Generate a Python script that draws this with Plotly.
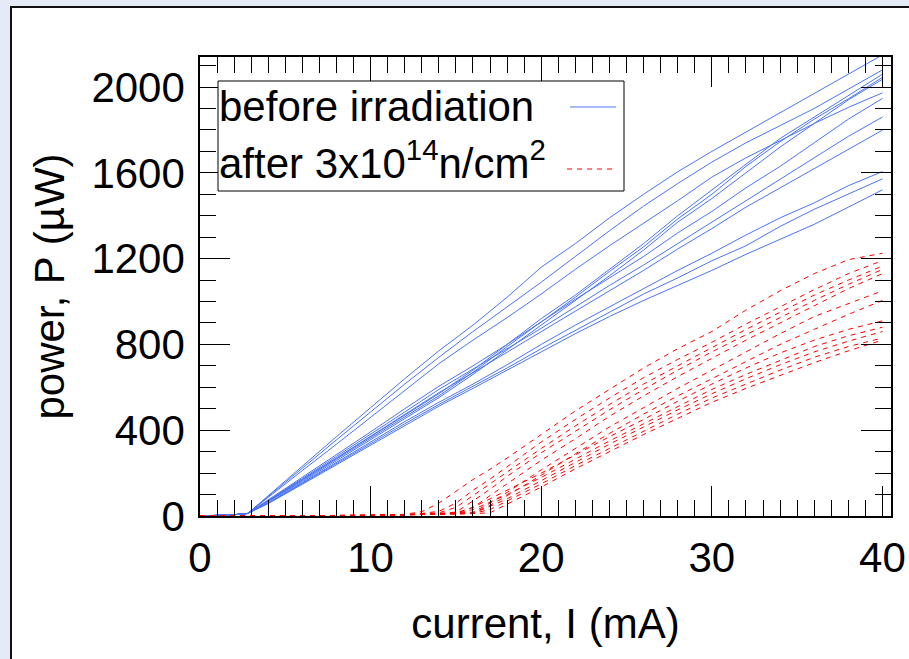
import plotly.graph_objects as go

# ---------------- data ----------------
blue_I = [0, 1, 2, 2.8, 4, 6, 8, 10, 12, 14, 16, 18, 20, 22, 24, 26, 28, 30, 32, 34, 36, 38, 40]

before_P = [
    [0, 2, 6, 12, 95, 235, 370, 505, 640, 770, 890, 1020, 1160, 1270, 1390, 1500, 1605, 1700, 1790, 1880, 1970, 2060, 2150],
    [0, 2, 6, 12, 92, 225, 355, 485, 615, 740, 860, 975, 1090, 1210, 1330, 1445, 1550, 1650, 1740, 1820, 1900, 1990, 2080],
    [0, 2, 6, 12, 88, 212, 335, 460, 585, 710, 820, 925, 1035, 1150, 1260, 1365, 1470, 1580, 1670, 1750, 1830, 1905, 1973],
    [0, 2, 6, 12, 70, 170, 270, 370, 470, 570, 680, 800, 920, 1030, 1150, 1270, 1400, 1520, 1640, 1760, 1860, 1960, 2060],
    [0, 2, 6, 12, 68, 165, 265, 362, 462, 560, 670, 790, 905, 1020, 1140, 1255, 1385, 1500, 1630, 1745, 1850, 1945, 2045],
    [0, 2, 6, 12, 66, 160, 258, 355, 455, 552, 660, 775, 890, 1005, 1120, 1240, 1370, 1480, 1600, 1720, 1830, 1940, 2036],
    [0, 2, 6, 12, 75, 180, 285, 392, 500, 605, 700, 800, 905, 1010, 1110, 1210, 1320, 1420, 1530, 1630, 1740, 1850, 1947],
    [0, 2, 6, 12, 72, 175, 278, 380, 485, 590, 685, 780, 875, 975, 1075, 1170, 1270, 1370, 1470, 1570, 1670, 1770, 1860],
    [0, 2, 6, 12, 70, 170, 270, 372, 472, 575, 668, 765, 860, 955, 1050, 1145, 1245, 1340, 1440, 1530, 1620, 1710, 1799],
    [0, 2, 6, 12, 62, 155, 250, 345, 440, 530, 615, 705, 800, 890, 975, 1060, 1145, 1225, 1310, 1390, 1460, 1540, 1606],
    [0, 2, 6, 12, 60, 152, 245, 338, 430, 520, 605, 690, 780, 865, 950, 1035, 1110, 1190, 1260, 1350, 1430, 1500, 1572],
    [0, 2, 6, 12, 58, 148, 238, 330, 422, 512, 595, 680, 765, 850, 930, 1005, 1075, 1145, 1220, 1290, 1360, 1440, 1521],
]

red_I = [0, 2, 4, 6, 8, 10, 11, 12, 13, 14, 15, 16, 17, 18, 20, 22, 24, 26, 28, 30, 32, 34, 36, 38, 40]

after_P = [
    [0, 0, 0, 1, 2, 3, 4, 8, 20, 60, 115, 170, 218, 270, 380, 490, 590, 690, 780, 860, 960, 1050, 1130, 1195, 1225],
    [0, 0, 0, 1, 2, 3, 4, 6, 12, 22, 60, 120, 172, 230, 345, 450, 550, 645, 730, 810, 895, 975, 1055, 1130, 1191],
    [0, 0, 0, 1, 2, 3, 4, 6, 10, 15, 40, 95, 148, 205, 315, 420, 520, 615, 700, 785, 870, 950, 1030, 1100, 1165],
    [0, 0, 0, 1, 2, 3, 4, 5, 8, 12, 18, 70, 125, 185, 295, 395, 495, 590, 680, 765, 845, 925, 1005, 1080, 1150],
    [0, 0, 0, 1, 2, 3, 4, 5, 8, 12, 15, 40, 95, 150, 260, 360, 465, 560, 650, 735, 820, 900, 980, 1060, 1130],
    [0, 0, 0, 1, 2, 3, 4, 5, 7, 10, 13, 18, 60, 110, 215, 315, 415, 505, 595, 680, 765, 850, 930, 990, 1050],
    [0, 0, 0, 1, 2, 3, 4, 5, 7, 10, 12, 15, 50, 95, 190, 290, 385, 475, 560, 640, 720, 800, 870, 940, 1005],
    [0, 0, 0, 1, 2, 3, 4, 5, 7, 10, 12, 40, 80, 120, 200, 285, 370, 450, 535, 615, 690, 760, 820, 870, 910],
    [0, 0, 0, 1, 2, 3, 4, 5, 6, 9, 11, 30, 65, 100, 180, 265, 350, 430, 510, 590, 660, 725, 790, 840, 880],
    [0, 0, 0, 1, 2, 3, 4, 5, 6, 8, 10, 12, 45, 80, 165, 250, 335, 415, 495, 570, 640, 705, 765, 815, 860],
    [0, 0, 0, 1, 2, 3, 4, 5, 6, 8, 10, 12, 30, 70, 150, 235, 315, 395, 475, 550, 615, 680, 740, 790, 830],
    [0, 0, 0, 1, 2, 3, 4, 5, 6, 7, 9, 11, 15, 55, 135, 220, 300, 380, 455, 530, 595, 655, 715, 770, 820],
]

x_ticks = [0, 10, 20, 30, 40]
y_ticks = [0, 400, 800, 1200, 1600, 2000]
x_mid_ticks = [5, 15, 25, 35]
legend_labels = ["before irradiation", "after 3x10<sup>14</sup>n/cm<sup>2</sup>"]
x_title = "current, I (mA)"
y_title = "power, P (µW)"

BLUE = "#4A74F4"
RED = "#FF0000"
FONT = "Liberation Sans, Arial, sans-serif"
FS = 42

# ---------------- figure ----------------
fig = go.Figure()
for ys in before_P:
    fig.add_trace(go.Scatter(x=blue_I, y=ys, mode="lines",
                             line=dict(color=BLUE, width=1), showlegend=False,
                             hoverinfo="skip"))
for ys in after_P:
    fig.add_trace(go.Scatter(x=red_I, y=ys, mode="lines",
                             line=dict(color=RED, width=1, dash="5px,5px"),
                             showlegend=False, hoverinfo="skip"))

W, H = 909, 659
L, R, T, B = 200, 891, 57, 516


def px(xp):
    return (xp - L) / (R - L)


def py(yp):
    return (B - yp) / (B - T)


axis_common = dict(showline=True, linecolor="black", linewidth=1.5, mirror="allticks",
                   ticks="inside", ticklen=30, tickwidth=1, tickcolor="black",
                   showgrid=False, zeroline=False, automargin=False,
                   tickfont=dict(family=FONT, size=FS, color="black"))

fig.update_layout(
    width=W, height=H,
    margin=dict(l=L, r=W - R, t=T, b=H - B, autoexpand=False),
    paper_bgcolor="#E4EAF8",
    plot_bgcolor="rgba(0,0,0,0)",
    font=dict(family=FONT, color="black"),
    showlegend=False,
    xaxis=dict(range=[0, 40.5], tickvals=x_ticks, ticktext=[str(v) for v in x_ticks],
               minor=dict(dtick=1, tick0=0, ticklen=16, ticks="inside", tickcolor="black", tickwidth=1),
               ticklabelstandoff=4,
               title=dict(text=x_title, font=dict(family=FONT, size=FS), standoff=28),
               **axis_common),
    xaxis2=dict(range=[0, 40.5], overlaying="x", anchor="y", side="bottom",
                tickvals=x_mid_ticks, showticklabels=False, ticks="inside", ticklen=22,
                tickcolor="black", tickwidth=1, mirror="allticks", showline=False,
                showgrid=False, zeroline=False, automargin=False),
    yaxis=dict(range=[0, 2140], tickvals=y_ticks, ticktext=[str(v) for v in y_ticks],
               minor=dict(dtick=100, tick0=0, ticklen=16, ticks="inside", tickcolor="black", tickwidth=1),
               ticklabelstandoff=5,
               title=dict(text=y_title, font=dict(family=FONT, size=FS), standoff=14),
               **axis_common),
)

# white panel with dark frame
fig.add_shape(type="rect", xref="paper", yref="paper", layer="below",
              x0=px(11), x1=px(925), y0=py(680), y1=py(7),
              fillcolor="white", line=dict(color="#111111", width=2))

# legend box
fig.add_shape(type="rect", xref="paper", yref="paper",
              x0=px(218), x1=px(624), y0=py(191), y1=py(81),
              fillcolor="white", line=dict(color="black", width=1))
fig.add_shape(type="line", xref="paper", yref="paper",
              x0=px(570), x1=px(616), y0=py(107), y1=py(107),
              line=dict(color=BLUE, width=1))
fig.add_shape(type="line", xref="paper", yref="paper",
              x0=px(567), x1=px(612), y0=py(169), y1=py(169),
              line=dict(color=RED, width=1, dash="5px,5px"))
fig.add_annotation(xref="paper", yref="paper", x=px(217), y=py(106), xanchor="left",
                   yanchor="middle", text=legend_labels[0], showarrow=False,
                   font=dict(family=FONT, size=FS, color="black"))
fig.add_annotation(xref="paper", yref="paper", x=px(217), y=py(160), xanchor="left",
                   yanchor="middle", text=legend_labels[1], showarrow=False,
                   font=dict(family=FONT, size=FS, color="black"))

fig.write_html("out.html", config={"displayModeBar": False},
               post_script="document.body.style.margin='0';document.body.style.overflow='hidden';")
